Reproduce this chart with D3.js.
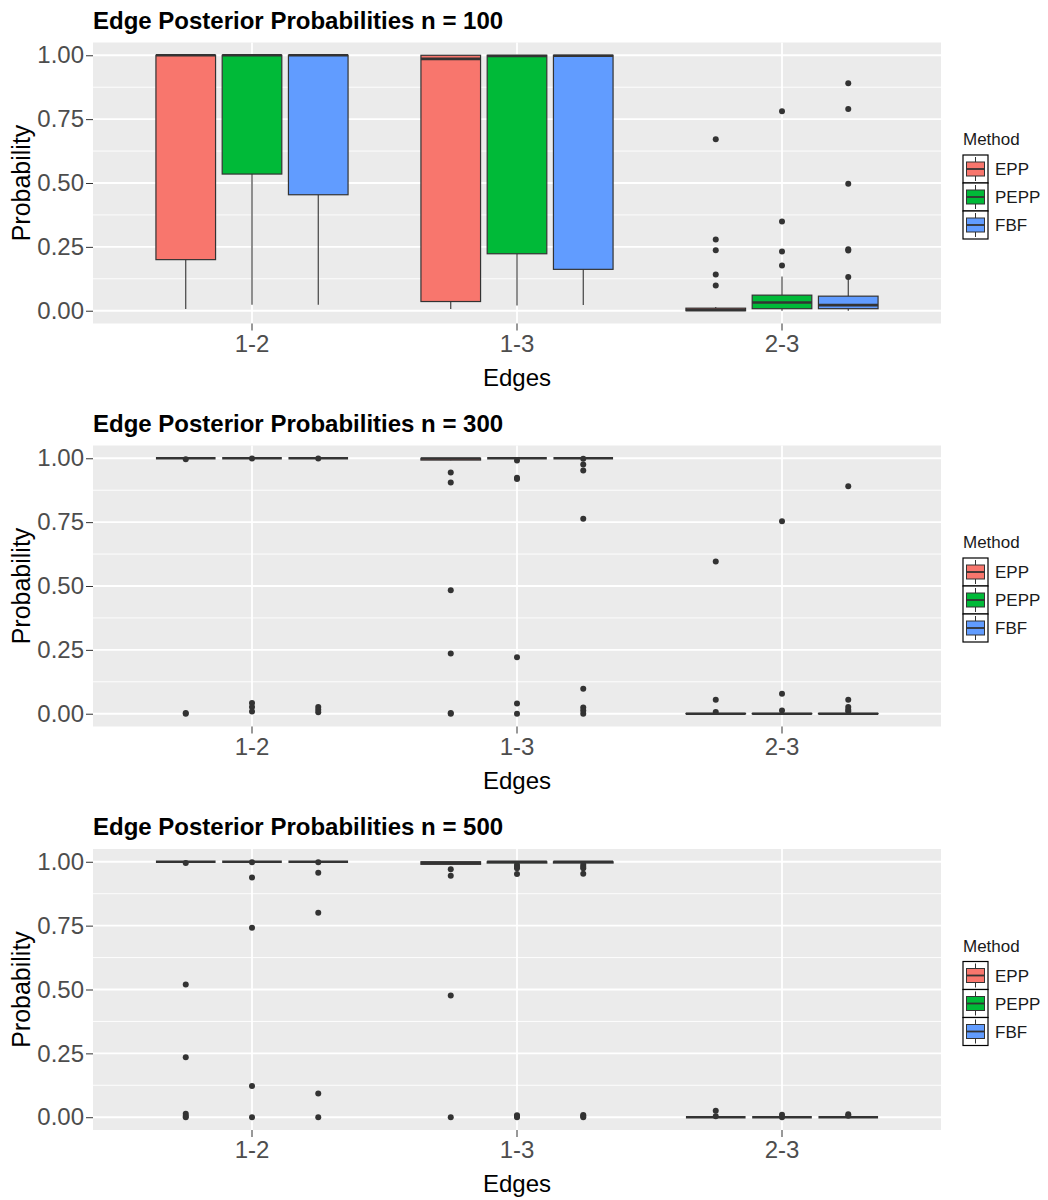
<!DOCTYPE html>
<html>
<head>
<meta charset="utf-8">
<script src="https://cdn.jsdelivr.net/npm/d3@7"></script>
<style>
  body { margin: 0; background: #fff; }
  text { font-family: "Liberation Sans", Arial, sans-serif; }
</style>
</head>
<body>
<div id="chart"></div>
<script>
var edges = ["1-2", "1-3", "2-3"];
var methods = ["EPP", "PEPP", "FBF"];
var fills = ["#F8766D", "#00BA38", "#619CFF"];
var sampleSizes = [100, 300, 500];
var yTicks = [0, 0.25, 0.5, 0.75, 1];
var yMinor = [0.125, 0.375, 0.625, 0.875];

// [lower whisker, q1, median, q3, upper whisker], edge by edge, method by method
var stats100 = [
  [0.007, 0.200, 1.000, 1.000, 1.000],
  [0.023, 0.535, 1.000, 1.000, 1.000],
  [0.023, 0.454, 1.000, 1.000, 1.000],
  [0.007, 0.036, 0.986, 1.000, 1.000],
  [0.020, 0.223, 0.997, 1.000, 1.000],
  [0.022, 0.162, 0.998, 1.000, 1.000],
  [0.000, 0.000, 0.003, 0.010, 0.015],
  [0.000, 0.008, 0.032, 0.061, 0.134],
  [0.000, 0.008, 0.022, 0.057, 0.128]
];
var outliers100 = [
  [], [], [],
  [], [], [],
  [0.671, 0.279, 0.237, 0.142, 0.099],
  [0.781, 0.349, 0.232, 0.177],
  [0.890, 0.790, 0.497, 0.241, 0.236, 0.132]
];

var stats300 = [
  [1, 1, 1, 1, 1],
  [1, 1, 1, 1, 1],
  [1, 1, 1, 1, 1],
  [0.992, 0.993, 0.999, 1, 1],
  [1, 1, 1, 1, 1],
  [1, 1, 1, 1, 1],
  [0, 0, 0, 0.001, 0.002],
  [0, 0, 0, 0.001, 0.002],
  [0, 0, 0, 0.001, 0.002]
];
var outliers300 = [
  [0.996, 0.003, 0.000],
  [0.999, 0.042, 0.026, 0.009],
  [0.999, 0.026, 0.016, 0.006],
  [0.944, 0.905, 0.483, 0.236, 0.003, 0.000],
  [0.991, 0.924, 0.919, 0.221, 0.040, 0.000],
  [0.998, 0.976, 0.952, 0.763, 0.098, 0.024, 0.013, 0.000],
  [0.596, 0.055, 0.007],
  [0.753, 0.078, 0.013],
  [0.890, 0.055, 0.026, 0.016, 0.010]
];

var stats500 = [
  [1, 1, 1, 1, 1],
  [1, 1, 1, 1, 1],
  [1, 1, 1, 1, 1],
  [0.988, 0.990, 0.996, 1, 1],
  [0.994, 0.995, 1, 1, 1],
  [0.994, 0.995, 1, 1, 1],
  [0, 0, 0, 0, 0.002],
  [0, 0, 0, 0, 0.002],
  [0, 0, 0, 0, 0.002]
];
var outliers500 = [
  [0.995, 0.520, 0.235, 0.014, 0.005, 0.000],
  [0.998, 0.938, 0.742, 0.122, 0.000],
  [0.998, 0.957, 0.800, 0.093, 0.000],
  [0.971, 0.945, 0.477, 0.000],
  [0.988, 0.981, 0.975, 0.952, 0.008, 0.004, 0.000],
  [0.988, 0.981, 0.975, 0.953, 0.009, 0.005, 0.000],
  [0.025, 0.004],
  [0.010, 0.000],
  [0.012, 0.006]
];

var allStats = [stats100, stats300, stats500];
var allOutliers = [outliers100, outliers300, outliers500];

var width = 1048, height = 1200;
var panelLeft = 93, panelRight = 941, panelHeight = 281;
var panelTops = [42.5, 445.5, 849];

var svg = d3.select("#chart").append("svg")
  .attr("width", width).attr("height", height);

var x = d3.scaleBand().domain(edges)
  .range([panelLeft, panelRight])
  .paddingInner(0).paddingOuter(0.1);
var step = x.step();
var sub = d3.scaleBand().domain(methods).range([-0.375 * step, 0.375 * step]);
var boxW = sub.bandwidth() * 0.9;

function drawPanel(p){
  var top = panelTops[p], bottom = top + panelHeight;
  var stats = allStats[p], outs = allOutliers[p];
  var y = d3.scaleLinear().domain([-0.05, 1.05]).range([bottom, top]);
  var g = svg.append("g");

  // title
  g.append("text")
    .attr("x", panelLeft).attr("y", top - 14)
    .style("font-size", "24px").style("font-weight", "bold")
    .attr("fill", "#000")
    .text("Edge Posterior Probabilities n = " + sampleSizes[p]);

  // panel background + grid
  g.append("rect")
    .attr("x", panelLeft).attr("y", top)
    .attr("width", panelRight - panelLeft).attr("height", panelHeight)
    .attr("fill", "#EBEBEB");
  g.selectAll(".minor").data(yMinor).enter().append("line")
    .attr("x1", panelLeft).attr("x2", panelRight)
    .attr("y1", y).attr("y2", y)
    .attr("stroke", "#fff").attr("stroke-width", 0.9);
  g.selectAll(".major").data(yTicks).enter().append("line")
    .attr("x1", panelLeft).attr("x2", panelRight)
    .attr("y1", y).attr("y2", y)
    .attr("stroke", "#fff").attr("stroke-width", 1.8);
  g.selectAll(".vmajor").data(edges).enter().append("line")
    .attr("x1", function(d){ return x(d) + step / 2; })
    .attr("x2", function(d){ return x(d) + step / 2; })
    .attr("y1", top).attr("y2", bottom)
    .attr("stroke", "#fff").attr("stroke-width", 1.8);

  // axes
  var yAxis = g.append("g")
    .attr("transform", "translate(" + panelLeft + ",0)")
    .call(d3.axisLeft(y).tickValues(yTicks).tickFormat(d3.format(".2f")).tickSize(7).tickPadding(2));
  var xAxis = g.append("g")
    .attr("transform", "translate(0," + bottom + ")")
    .call(d3.axisBottom(x).tickSize(7).tickPadding(4));
  [yAxis, xAxis].forEach(function(a){
    a.select(".domain").remove();
    a.selectAll(".tick line").attr("stroke", "#333").attr("stroke-width", 1);
    a.selectAll(".tick text").attr("fill", "#4D4D4D")
      .style("font-size", "24px").style("font-family", "'Liberation Sans', Arial, sans-serif");
  });

  g.append("text")
    .attr("x", (panelLeft + panelRight) / 2).attr("y", bottom + 62)
    .attr("text-anchor", "middle")
    .style("font-size", "24px").attr("fill", "#000")
    .text("Edges");
  g.append("text")
    .attr("transform", "translate(30," + ((top + bottom) / 2) + ") rotate(-90)")
    .attr("text-anchor", "middle")
    .style("font-size", "25px").attr("fill", "#000")
    .text("Probability");

  // boxes
  var rows = [];
  edges.forEach(function(e, ei){
    methods.forEach(function(m, mi){
      var k = ei * 3 + mi;
      rows.push({edge: e, method: m, mi: mi, s: stats[k], out: outs[k],
        cx: x(e) + step / 2 + sub(m) + sub.bandwidth() / 2});
    });
  });

  var bx = g.selectAll(".box").data(rows).enter().append("g");

  bx.selectAll("circle").data(function(d){
      return d.out.map(function(v){ return {v: v, cx: d.cx}; });
    }).enter().append("circle")
    .attr("cx", function(d){ return d.cx; })
    .attr("cy", function(d){ return y(d.v); })
    .attr("r", 3)
    .attr("fill", "#333");

  bx.append("line")
    .attr("x1", function(d){ return d.cx; }).attr("x2", function(d){ return d.cx; })
    .attr("y1", function(d){ return y(d.s[4]); }).attr("y2", function(d){ return y(d.s[3]); })
    .attr("stroke", "#333").attr("stroke-width", 1.1);
  bx.append("line")
    .attr("x1", function(d){ return d.cx; }).attr("x2", function(d){ return d.cx; })
    .attr("y1", function(d){ return y(d.s[1]); }).attr("y2", function(d){ return y(d.s[0]); })
    .attr("stroke", "#333").attr("stroke-width", 1.1);

  bx.append("rect")
    .attr("x", function(d){ return d.cx - boxW / 2; })
    .attr("width", boxW)
    .attr("y", function(d){ return y(d.s[3]); })
    .attr("height", function(d){ return y(d.s[1]) - y(d.s[3]); })
    .attr("fill", function(d){ return fills[d.mi]; })
    .attr("stroke", "#333").attr("stroke-width", 1.2);

  bx.append("line")
    .attr("x1", function(d){ return d.cx - boxW / 2; })
    .attr("x2", function(d){ return d.cx + boxW / 2; })
    .attr("y1", function(d){ return y(d.s[2]); }).attr("y2", function(d){ return y(d.s[2]); })
    .attr("stroke", "#333").attr("stroke-width", 2.6);

  // legend
  var cy = (top + bottom) / 2;
  var lg = g.append("g").attr("transform", "translate(963," + (cy - 28) + ")");
  lg.append("text")
    .attr("x", 0).attr("y", -10)
    .style("font-size", "17px")
    .style("font-family", "'Liberation Sans Narrow', 'Arial Narrow', sans-serif")
    .attr("fill", "#1a1a1a")
    .text("Method");
  var key = lg.selectAll(".key").data(methods).enter().append("g")
    .attr("transform", function(d, i){ return "translate(0," + (i * 28) + ")"; });
  key.append("rect")
    .attr("width", 25).attr("height", 28)
    .attr("fill", "#fff").attr("stroke", "#000").attr("stroke-width", 1.2);
  key.append("line")
    .attr("x1", 12.5).attr("x2", 12.5).attr("y1", 2).attr("y2", 26)
    .attr("stroke", "#333").attr("stroke-width", 1);
  key.append("rect")
    .attr("x", 3.5).attr("y", 7).attr("width", 18).attr("height", 14)
    .attr("fill", function(d, i){ return fills[i]; })
    .attr("stroke", "#333").attr("stroke-width", 1);
  key.append("line")
    .attr("x1", 3.5).attr("x2", 21.5).attr("y1", 14).attr("y2", 14)
    .attr("stroke", "#333").attr("stroke-width", 1.8);
  key.append("text")
    .attr("x", 32).attr("y", 20)
    .style("font-size", "17px").attr("fill", "#1a1a1a")
    .text(function(d){ return d; });
}

sampleSizes.forEach(function(n, p){ drawPanel(p); });
</script>
</body>
</html>
